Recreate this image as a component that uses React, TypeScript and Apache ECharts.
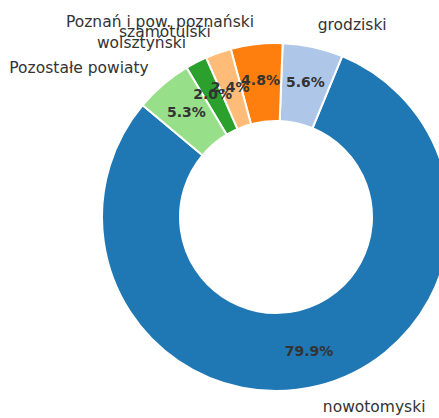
import React, { useEffect, useRef } from "react";
import * as echarts from "echarts";

const categories = [
  "nowotomyski",
  "grodziski",
  "Poznań i pow. poznański",
  "szamotulski",
  "wolsztyński",
  "Pozostałe powiaty",
];
const shares = [79.9, 5.6, 4.8, 2.4, 2.0, 5.3];
const colors = ["#1f77b4", "#aec7e8", "#ff7f0e", "#ffbb78", "#2ca02c", "#98df8a"];

export default function App() {
  const ref = useRef<HTMLDivElement>(null);
  useEffect(() => {
    if (!ref.current) return;
    const chart = echarts.init(ref.current, undefined, { renderer: "svg" });
    const data = categories.map((name, i) => ({
      name,
      value: shares[i],
      itemStyle: { color: colors[i] },
    }));
    const common = {
      type: "pie" as const,
      center: [276, 217],
      radius: [96, 174],
      startAngle: 140,
      clockwise: false,
      avoidLabelOverlap: false,
      labelLayout: { hideOverlap: false },
    };
    chart.setOption({
      animation: false,
      series: [
        {
          ...common,
          data,
          itemStyle: { borderColor: "#ffffff", borderWidth: 2 },
          label: {
            show: true,
            position: "outside",
            formatter: "{b}",
            fontFamily: "DejaVu Sans",
            fontSize: 15.5,
            color: "#333333",
            distanceToLabelLine: 0,
          },
          labelLine: { show: false, length: 22, length2: 0 },
          emphasis: { disabled: true },
        },
        {
          ...common,
          silent: true,
          data: data.map((d) => ({ ...d, itemStyle: { color: "transparent" } })),
          itemStyle: { borderWidth: 0 },
          label: {
            show: true,
            position: "inside",
            formatter: (p: any) => p.percent.toFixed(1) + "%",
            fontFamily: "DejaVu Sans",
            fontSize: 14,
            fontWeight: "bold",
            color: "#333333",
          },
          labelLine: { show: false },
          emphasis: { disabled: true },
        },
      ],
    });
    return () => chart.dispose();
  }, []);
  return (
    <div
      ref={ref}
      style={{ position: "fixed", left: 0, top: 0, width: 439, height: 418, background: "#ffffff" }}
    />
  );
}
